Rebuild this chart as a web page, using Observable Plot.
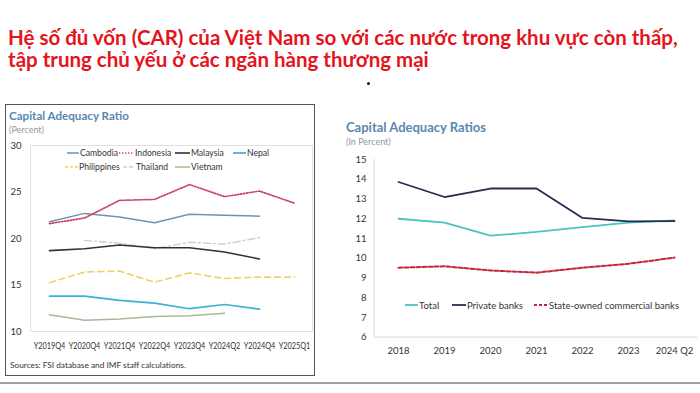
<!DOCTYPE html>
<html><head><meta charset="utf-8">
<script src="https://cdn.jsdelivr.net/npm/d3@7"></script>
<script src="https://cdn.jsdelivr.net/npm/@observablehq/plot@0.6"></script>
<style>
body{margin:0;background:#fff;}
#page{position:relative;width:700px;height:393px;overflow:hidden;background:#fff;font-family:Lato,"Open Sans",sans-serif;}
.abs{position:absolute;white-space:nowrap;}
#title{left:8px;top:26px;color:#e5141b;font-weight:700;font-size:20.5px;line-height:22px;}
#dot{left:367px;top:82px;width:3px;height:3px;border-radius:50%;background:#111;}
#leftbox{left:5px;top:104px;width:310px;height:272px;border:1.5px solid #555;box-sizing:border-box;}
.ctitle{color:#5a87ad;font-weight:700;}
.csub{color:#8f9aa6;font-size:9px;}
#rule{left:0;top:382px;width:700px;height:2px;background:#a0a0a0;}
.leg{position:absolute;display:flex;align-items:center;color:#333;white-space:nowrap;}
.leg svg{display:block;margin-right:1px;}
#src{left:10px;top:360px;font-size:8.3px;color:#333;}
</style></head>
<body><div id="page">
<div id="title" class="abs">Hệ số đủ vốn (CAR) của Việt Nam so với các nước trong khu vực còn thấp,<br>tập trung chủ yếu ở các ngân hàng thương mại</div>
<div id="dot" class="abs"></div>
<div id="leftbox" class="abs"></div>
<div class="abs ctitle" style="left:9px;top:109px;font-size:11.6px;">Capital Adequacy Ratio</div>
<div class="abs csub" style="left:9px;top:124px;">(Percent)</div>
<div class="abs ctitle" style="left:346px;top:119px;font-size:13px;">Capital Adequacy Ratios</div>
<div class="abs csub" style="left:346px;top:136px;">(In Percent)</div>
<div id="src" class="abs">Sources: FSI database and IMF staff calculations.</div>
<div id="rule" class="abs"></div>
</div>
<script>
// ---- Left chart data ----
const leftCats = ["Y2019Q4","Y2020Q4","Y2021Q4","Y2022Q4","Y2023Q4","Y2024Q2","Y2024Q4","Y2025Q1"];
const cambodia    = [21.8, 22.7, 22.3, 21.7, 22.6, 22.5, 22.4, null];
const indonesia   = [21.6, 22.2, 24.1, 24.2, 25.8, 24.5, 25.1, 23.8];
const malaysia    = [18.7, 18.9, 19.3, 19.0, 19.0, 18.55, 17.8, null];
const nepal       = [13.8, 13.8, 13.35, 13.05, 12.45, 12.9, 12.4, null];
const philippines = [15.25, 16.4, 16.5, 15.3, 16.3, 15.7, 15.85, 15.85];
const thailand    = [null, 19.8, 19.5, 18.9, 19.6, 19.4, 20.1, null];
const vietnam     = [11.8, 11.2, 11.35, 11.6, 11.7, 11.95, null, null];
const leftTicks = [10, 15, 20, 25, 30];

// ---- Right chart data ----
const rightCats = ["2018","2019","2020","2021","2022","2023","2024 Q2"];
const total        = [12.0, 11.8, 11.14, 11.33, 11.58, 11.8, 11.92];
const privateBanks = [13.86, 13.1, 13.53, 13.53, 12.04, 11.87, 11.88];
const stateOwned   = [9.52, 9.59, 9.38, 9.27, 9.52, 9.72, 10.03];
const rightTicks = [6, 7, 8, 9, 10, 11, 12, 13, 14, 15];

const rows = (cats, vals) => vals.map((v, i) => ({x: cats[i], y: v})).filter(d => d.y != null);

// styles (separate from data)
const leftSeries = [
  {name: "Thailand", vals: thailand, color: "#cdcdcd", dash: "7,3,2,3", legDash: "4,2", w: 1.4, lx: 123, ly: 167, sw: 12},
  {name: "Cambodia", vals: cambodia, color: "#6e93b5", dash: null, w: 1.5, lx: 67, ly: 153, sw: 12},
  {name: "Indonesia", vals: indonesia, color: "#c8405e", dash: "1.3,1.7", legDash: "1.3,1.7", w: 1.7, lx: 119, ly: 153, sw: 15},
  {name: "Malaysia", vals: malaysia, color: "#333333", dash: null, w: 1.6, lx: 175, ly: 153, sw: 15},
  {name: "Nepal", vals: nepal, color: "#3cb1d8", dash: null, w: 1.7, lx: 233, ly: 153, sw: 13},
  {name: "Philippines", vals: philippines, color: "#ebd36a", dash: "6,4", legDash: "3,2", w: 1.6, lx: 65, ly: 167, sw: 13},
  {name: "Vietnam", vals: vietnam, color: "#a8b898", dash: null, w: 1.5, lx: 175, ly: 167, sw: 15}
];
const rightSeries = [
  {name: "Total", vals: total, color: "#48c6bd", dash: null, w: 1.8, lx: 405, ly: 305, sw: 13},
  {name: "Private banks", vals: privateBanks, color: "#262b52", dash: null, w: 1.8, lx: 452, ly: 305, sw: 14},
  {name: "State-owned commercial banks", vals: stateOwned, color: "#c4283e", dash: "4,2", legDash: "3,2", w: 2, lx: 534, ly: 305, sw: 14}
];

const page = document.getElementById("page");

const left = Plot.plot({
  width: 320, height: 220,
  marginLeft: 30, marginRight: 8, marginTop: 10, marginBottom: 24,
  x: {type: "point", domain: leftCats, padding: 0.5, label: null},
  y: {domain: [10, 30], label: null},
  style: {fontFamily: "Lato, sans-serif", fontSize: "9px", color: "#333", background: "transparent", overflow: "visible"},
  marks: [
    Plot.frame({stroke: "#e2e2e2"}),
    Plot.axisX({tickSize: 0, tickPadding: 11, fontSize: 8, ariaLabel: "x-axis"}),
    Plot.axisY({ticks: leftTicks, tickSize: 0, tickPadding: 9, fontSize: 9.5}),
    ...leftSeries.map(s => Plot.line(rows(leftCats, s.vals), {x: "x", y: "y", stroke: s.color, strokeWidth: s.w, strokeDasharray: s.dash}))
  ]
});
// condense the x tick labels to fit like the original narrow font
d3.select(left).selectAll('g[aria-label^="x-axis"] text')
  .attr("textLength", 31.5).attr("lengthAdjust", "spacingAndGlyphs").style("font-size", "8.6px");
left.style.position = "absolute"; left.style.left = "0px"; left.style.top = "135px";
page.appendChild(left);

const right = Plot.plot({
  width: 360, height: 215,
  marginLeft: 34, marginRight: 3, marginTop: 9, marginBottom: 28.3,
  x: {type: "point", domain: rightCats, padding: 0.5, label: null},
  y: {domain: [6, 15], label: null},
  style: {fontFamily: "Lato, sans-serif", fontSize: "9.5px", color: "#333", background: "transparent", overflow: "visible"},
  marks: [
    Plot.ruleY([6], {stroke: "#e0e0e0", strokeWidth: 1.2}),
    (index, scales, values, dims) => {
      const g = d3.create("svg:line")
        .attr("x1", dims.marginLeft).attr("x2", dims.marginLeft)
        .attr("y1", dims.marginTop).attr("y2", dims.height - dims.marginBottom)
        .attr("stroke", "#e0e0e0").attr("stroke-width", 1.2);
      return g.node();
    },
    Plot.axisX({tickSize: 0, tickPadding: 10}),
    Plot.axisY({ticks: rightTicks, tickSize: 0, tickPadding: 8}),
    ...rightSeries.map(s => Plot.line(rows(rightCats, s.vals), {x: "x", y: "y", stroke: s.color, strokeWidth: s.w, strokeDasharray: s.dash}))
  ]
});
right.style.position = "absolute"; right.style.left = "340px"; right.style.top = "150px";
page.appendChild(right);

// legends
function addLegend(series, fontSize) {
  for (const s of series) {
    const d = document.createElement("div");
    d.className = "leg";
    d.style.left = s.lx + "px";
    d.style.top = (s.ly - 7) + "px";
    d.style.height = "14px";
    d.style.fontSize = fontSize;
    const sw = d3.create("svg").attr("width", s.sw).attr("height", 6);
    sw.append("line").attr("x1", 0).attr("x2", s.sw).attr("y1", 3).attr("y2", 3)
      .attr("stroke", s.color).attr("stroke-width", s.w)
      .attr("stroke-dasharray", s.legDash || null);
    d.appendChild(sw.node());
    const t = document.createElement("span");
    t.textContent = s.name;
    d.appendChild(t);
    page.appendChild(d);
  }
}
addLegend(leftSeries, "8.6px");
addLegend(rightSeries, "9.5px");
</script>
</body></html>
